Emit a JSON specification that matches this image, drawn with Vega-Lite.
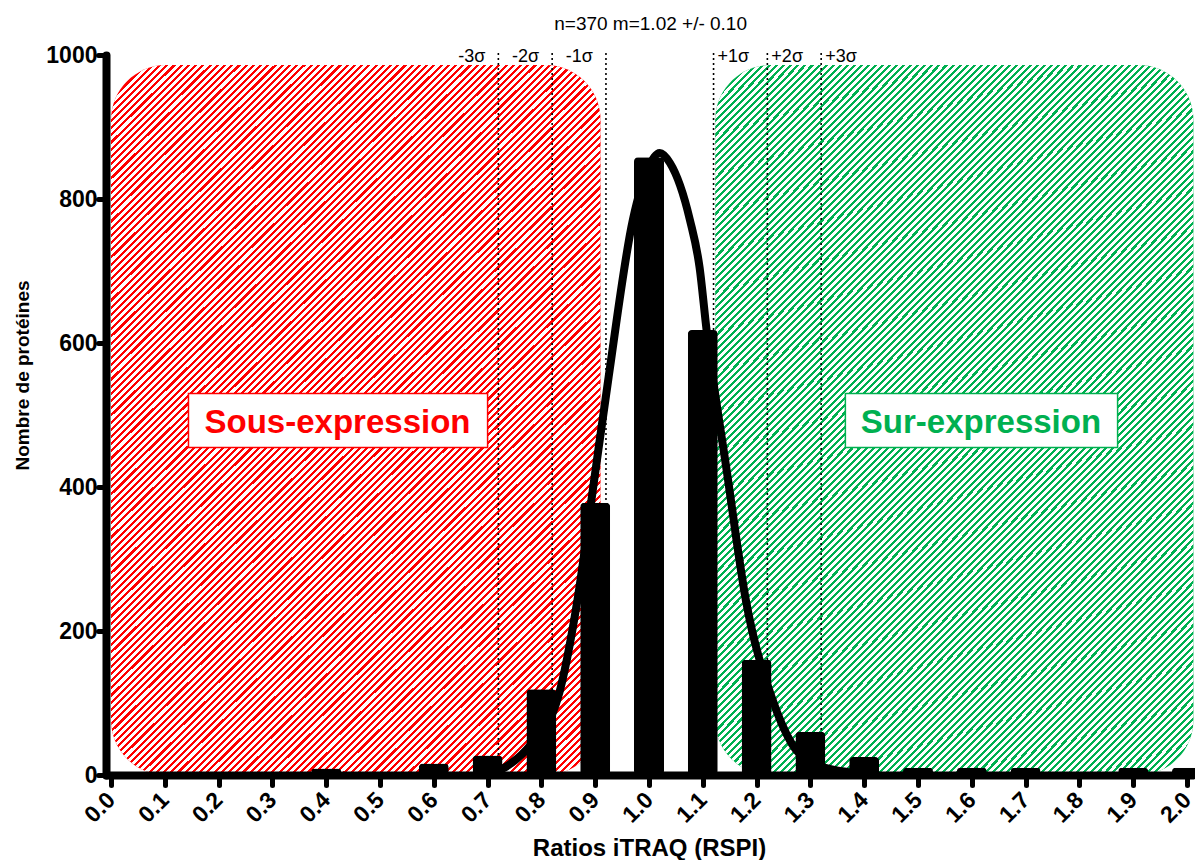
{
  "$schema": "https://vega.github.io/schema/vega-lite/v6.json",
  "width": 1086,
  "height": 720,
  "autosize": {"type": "none"},
  "padding": {"left": 106, "top": 55, "right": 3, "bottom": 85},
  "background": "white",
  "config": {"view": {"stroke": null}, "font": "Liberation Sans"},
  "datasets": {
    "zones": [
      {"x": 0, "x2": 0.91, "y": 0, "y2": 986, "zone": "Sous"},
      {"x": 1.123, "x2": 2.012, "y": 0, "y2": 986, "zone": "Sur"}
    ],
    "boxes": [
      {"x": 0.144, "x2": 0.700, "y": 455, "y2": 530, "zone": "Sous"},
      {"x": 1.365, "x2": 1.871, "y": 455, "y2": 530, "zone": "Sur"}
    ],
    "boxlabels": [
      {"x": 0.421, "y": 475, "zone": "Sous", "label": "Sous-expression"},
      {"x": 1.617, "y": 475, "zone": "Sur", "label": "Sur-expression"}
    ],
    "bars": [
      {"x": 0.4, "y": 9}, {"x": 0.6, "y": 16}, {"x": 0.7, "y": 27}, {"x": 0.8, "y": 119},
      {"x": 0.9, "y": 378}, {"x": 1.0, "y": 858}, {"x": 1.1, "y": 618}, {"x": 1.2, "y": 160},
      {"x": 1.3, "y": 60}, {"x": 1.4, "y": 25}, {"x": 1.5, "y": 10}, {"x": 1.6, "y": 10},
      {"x": 1.7, "y": 10}, {"x": 1.9, "y": 10}, {"x": 2.0, "y": 10}
    ],
    "curve": [
      {"x": 0.70, "y": 0}, {"x": 0.731, "y": 10}, {"x": 0.78, "y": 42}, {"x": 0.831, "y": 108},
      {"x": 0.867, "y": 243}, {"x": 0.90, "y": 420}, {"x": 0.925, "y": 553}, {"x": 0.97, "y": 771},
      {"x": 1.0, "y": 845}, {"x": 1.02, "y": 864}, {"x": 1.039, "y": 850}, {"x": 1.076, "y": 771},
      {"x": 1.094, "y": 705}, {"x": 1.107, "y": 618}, {"x": 1.145, "y": 420}, {"x": 1.18, "y": 243},
      {"x": 1.228, "y": 108}, {"x": 1.265, "y": 44}, {"x": 1.302, "y": 17}, {"x": 1.37, "y": 4},
      {"x": 1.40, "y": 2}
    ],
    "sigma": [
      {"x": 0.72, "y": 0, "y2": 1005},
      {"x": 0.82, "y": 0, "y2": 1005},
      {"x": 0.92, "y": 0, "y2": 1005},
      {"x": 1.12, "y": 0, "y2": 1005},
      {"x": 1.22, "y": 0, "y2": 1005},
      {"x": 1.32, "y": 0, "y2": 1005}
    ],
    "sigmalabels": [
      {"x": 0.72, "y": 990, "label": "-3σ", "side": "neg"},
      {"x": 0.82, "y": 990, "label": "-2σ", "side": "neg"},
      {"x": 0.92, "y": 990, "label": "-1σ", "side": "neg"},
      {"x": 1.12, "y": 990, "label": "+1σ", "side": "pos"},
      {"x": 1.22, "y": 990, "label": "+2σ", "side": "pos"},
      {"x": 1.32, "y": 990, "label": "+3σ", "side": "pos"}
    ],
    "title": [{"x": 1.003, "y": 1035, "label": "n=370 m=1.02 +/- 0.10"}]
  },
  "encoding": {
    "x": {
      "field": "x", "type": "quantitative",
      "scale": {"domain": [0, 2], "nice": false, "zero": false},
      "axis": {
        "title": "Ratios iTRAQ (RSPI)",
        "values": [0, 0.1, 0.2, 0.3, 0.4, 0.5, 0.6, 0.7, 0.8, 0.9, 1.0, 1.1, 1.2, 1.3, 1.4, 1.5, 1.6, 1.7, 1.8, 1.9, 2.0],
        "format": ".1f",
        "labelAngle": -45, "labelAlign": "right", "labelBaseline": "middle",
        "labelFontSize": 23, "labelFontWeight": "bold", "labelColor": "black",
        "labelPadding": 11, "labelFlush": false, "labelOverlap": false,
        "tickSize": 10, "tickWidth": 5, "tickCap": "round", "tickColor": "black",
        "domainColor": "black", "domainWidth": 8, "domainCap": "round",
        "grid": false,
        "titleFontSize": 24, "titleFontWeight": "bold", "titleColor": "black",
        "titleBaseline": "alphabetic", "titleY": 80,
        "zindex": 1
      }
    },
    "y": {
      "field": "y", "type": "quantitative",
      "scale": {"domain": [0, 1000], "nice": false},
      "axis": {
        "title": "Nombre de protéines",
        "values": [0, 200, 400, 600, 800, 1000],
        "format": "d",
        "labelFontSize": 23, "labelFontWeight": "bold", "labelColor": "black",
        "labelPadding": 1, "labelFlush": false, "labelOverlap": false,
        "tickSize": 8, "tickWidth": 5, "tickCap": "round", "tickColor": "black",
        "domainColor": "black", "domainWidth": 8, "domainCap": "round",
        "grid": false,
        "titleFontSize": 19, "titleFontWeight": "bold", "titleColor": "black",
        "titleX": -84, "titleY": 320, "titleAngle": 270, "titleAlign": "center", "titleBaseline": "middle",
        "zindex": 1
      }
    }
  },
  "layer": [
    {
      "data": {"name": "zones"},
      "mark": {"type": "rect", "cornerRadius": 55},
      "encoding": {
        "x2": {"field": "x2"},
        "y2": {"field": "y2"},
        "color": {"field": "zone", "type": "nominal", "scale": {"domain": ["Sous", "Sur"], "range": ["#ff0000", "#00b050"]}, "legend": null}
      }
    },
    {
      "data": {"name": "zones"},
      "mark": {
        "type": "rect", "cornerRadius": 55,
        "fill": {
          "gradient": "linear", "x1": 0, "y1": 0, "x2": 0.7865, "y2": 1.1465,
          "stops": [
{"offset":0,"color":"#fff"},{"offset":0.0034,"color":"#fff"},{"offset":0.0034,"color":"transparent"},{"offset":0.006,"color":"transparent"},
{"offset":0.006,"color":"#fff"},{"offset":0.0094,"color":"#fff"},{"offset":0.0094,"color":"transparent"},{"offset":0.012,"color":"transparent"},
{"offset":0.012,"color":"#fff"},{"offset":0.0154,"color":"#fff"},{"offset":0.0154,"color":"transparent"},{"offset":0.018,"color":"transparent"},
{"offset":0.018,"color":"#fff"},{"offset":0.0214,"color":"#fff"},{"offset":0.0214,"color":"transparent"},{"offset":0.024,"color":"transparent"},
{"offset":0.024,"color":"#fff"},{"offset":0.0274,"color":"#fff"},{"offset":0.0274,"color":"transparent"},{"offset":0.03,"color":"transparent"},
{"offset":0.03,"color":"#fff"},{"offset":0.0334,"color":"#fff"},{"offset":0.0334,"color":"transparent"},{"offset":0.036,"color":"transparent"},
{"offset":0.036,"color":"#fff"},{"offset":0.0394,"color":"#fff"},{"offset":0.0394,"color":"transparent"},{"offset":0.042,"color":"transparent"},
{"offset":0.042,"color":"#fff"},{"offset":0.0454,"color":"#fff"},{"offset":0.0454,"color":"transparent"},{"offset":0.048,"color":"transparent"},
{"offset":0.048,"color":"#fff"},{"offset":0.0514,"color":"#fff"},{"offset":0.0514,"color":"transparent"},{"offset":0.054,"color":"transparent"},
{"offset":0.054,"color":"#fff"},{"offset":0.0574,"color":"#fff"},{"offset":0.0574,"color":"transparent"},{"offset":0.06,"color":"transparent"},
{"offset":0.06,"color":"#fff"},{"offset":0.0634,"color":"#fff"},{"offset":0.0634,"color":"transparent"},{"offset":0.066,"color":"transparent"},
{"offset":0.066,"color":"#fff"},{"offset":0.0694,"color":"#fff"},{"offset":0.0694,"color":"transparent"},{"offset":0.072,"color":"transparent"},
{"offset":0.072,"color":"#fff"},{"offset":0.0754,"color":"#fff"},{"offset":0.0754,"color":"transparent"},{"offset":0.078,"color":"transparent"},
{"offset":0.078,"color":"#fff"},{"offset":0.0814,"color":"#fff"},{"offset":0.0814,"color":"transparent"},{"offset":0.084,"color":"transparent"},
{"offset":0.084,"color":"#fff"},{"offset":0.0874,"color":"#fff"},{"offset":0.0874,"color":"transparent"},{"offset":0.09,"color":"transparent"},
{"offset":0.09,"color":"#fff"},{"offset":0.0934,"color":"#fff"},{"offset":0.0934,"color":"transparent"},{"offset":0.096,"color":"transparent"},
{"offset":0.096,"color":"#fff"},{"offset":0.0994,"color":"#fff"},{"offset":0.0994,"color":"transparent"},{"offset":0.102,"color":"transparent"},
{"offset":0.102,"color":"#fff"},{"offset":0.1054,"color":"#fff"},{"offset":0.1054,"color":"transparent"},{"offset":0.108,"color":"transparent"},
{"offset":0.108,"color":"#fff"},{"offset":0.1114,"color":"#fff"},{"offset":0.1114,"color":"transparent"},{"offset":0.114,"color":"transparent"},
{"offset":0.114,"color":"#fff"},{"offset":0.1174,"color":"#fff"},{"offset":0.1174,"color":"transparent"},{"offset":0.12,"color":"transparent"},
{"offset":0.12,"color":"#fff"},{"offset":0.1234,"color":"#fff"},{"offset":0.1234,"color":"transparent"},{"offset":0.126,"color":"transparent"},
{"offset":0.126,"color":"#fff"},{"offset":0.1294,"color":"#fff"},{"offset":0.1294,"color":"transparent"},{"offset":0.132,"color":"transparent"},
{"offset":0.132,"color":"#fff"},{"offset":0.1354,"color":"#fff"},{"offset":0.1354,"color":"transparent"},{"offset":0.138,"color":"transparent"},
{"offset":0.138,"color":"#fff"},{"offset":0.1414,"color":"#fff"},{"offset":0.1414,"color":"transparent"},{"offset":0.144,"color":"transparent"},
{"offset":0.144,"color":"#fff"},{"offset":0.1474,"color":"#fff"},{"offset":0.1474,"color":"transparent"},{"offset":0.15,"color":"transparent"},
{"offset":0.15,"color":"#fff"},{"offset":0.1534,"color":"#fff"},{"offset":0.1534,"color":"transparent"},{"offset":0.156,"color":"transparent"},
{"offset":0.156,"color":"#fff"},{"offset":0.1594,"color":"#fff"},{"offset":0.1594,"color":"transparent"},{"offset":0.162,"color":"transparent"},
{"offset":0.162,"color":"#fff"},{"offset":0.1654,"color":"#fff"},{"offset":0.1654,"color":"transparent"},{"offset":0.168,"color":"transparent"},
{"offset":0.168,"color":"#fff"},{"offset":0.1714,"color":"#fff"},{"offset":0.1714,"color":"transparent"},{"offset":0.174,"color":"transparent"},
{"offset":0.174,"color":"#fff"},{"offset":0.1774,"color":"#fff"},{"offset":0.1774,"color":"transparent"},{"offset":0.18,"color":"transparent"},
{"offset":0.18,"color":"#fff"},{"offset":0.1834,"color":"#fff"},{"offset":0.1834,"color":"transparent"},{"offset":0.186,"color":"transparent"},
{"offset":0.186,"color":"#fff"},{"offset":0.1894,"color":"#fff"},{"offset":0.1894,"color":"transparent"},{"offset":0.192,"color":"transparent"},
{"offset":0.192,"color":"#fff"},{"offset":0.1954,"color":"#fff"},{"offset":0.1954,"color":"transparent"},{"offset":0.198,"color":"transparent"},
{"offset":0.198,"color":"#fff"},{"offset":0.2014,"color":"#fff"},{"offset":0.2014,"color":"transparent"},{"offset":0.204,"color":"transparent"},
{"offset":0.204,"color":"#fff"},{"offset":0.2074,"color":"#fff"},{"offset":0.2074,"color":"transparent"},{"offset":0.21,"color":"transparent"},
{"offset":0.21,"color":"#fff"},{"offset":0.2134,"color":"#fff"},{"offset":0.2134,"color":"transparent"},{"offset":0.216,"color":"transparent"},
{"offset":0.216,"color":"#fff"},{"offset":0.2194,"color":"#fff"},{"offset":0.2194,"color":"transparent"},{"offset":0.222,"color":"transparent"},
{"offset":0.222,"color":"#fff"},{"offset":0.2254,"color":"#fff"},{"offset":0.2254,"color":"transparent"},{"offset":0.228,"color":"transparent"},
{"offset":0.228,"color":"#fff"},{"offset":0.2314,"color":"#fff"},{"offset":0.2314,"color":"transparent"},{"offset":0.234,"color":"transparent"},
{"offset":0.234,"color":"#fff"},{"offset":0.2374,"color":"#fff"},{"offset":0.2374,"color":"transparent"},{"offset":0.24,"color":"transparent"},
{"offset":0.24,"color":"#fff"},{"offset":0.2434,"color":"#fff"},{"offset":0.2434,"color":"transparent"},{"offset":0.246,"color":"transparent"},
{"offset":0.246,"color":"#fff"},{"offset":0.2494,"color":"#fff"},{"offset":0.2494,"color":"transparent"},{"offset":0.252,"color":"transparent"},
{"offset":0.252,"color":"#fff"},{"offset":0.2554,"color":"#fff"},{"offset":0.2554,"color":"transparent"},{"offset":0.258,"color":"transparent"},
{"offset":0.258,"color":"#fff"},{"offset":0.2614,"color":"#fff"},{"offset":0.2614,"color":"transparent"},{"offset":0.264,"color":"transparent"},
{"offset":0.264,"color":"#fff"},{"offset":0.2674,"color":"#fff"},{"offset":0.2674,"color":"transparent"},{"offset":0.27,"color":"transparent"},
{"offset":0.27,"color":"#fff"},{"offset":0.2734,"color":"#fff"},{"offset":0.2734,"color":"transparent"},{"offset":0.276,"color":"transparent"},
{"offset":0.276,"color":"#fff"},{"offset":0.2794,"color":"#fff"},{"offset":0.2794,"color":"transparent"},{"offset":0.282,"color":"transparent"},
{"offset":0.282,"color":"#fff"},{"offset":0.2854,"color":"#fff"},{"offset":0.2854,"color":"transparent"},{"offset":0.288,"color":"transparent"},
{"offset":0.288,"color":"#fff"},{"offset":0.2914,"color":"#fff"},{"offset":0.2914,"color":"transparent"},{"offset":0.294,"color":"transparent"},
{"offset":0.294,"color":"#fff"},{"offset":0.2974,"color":"#fff"},{"offset":0.2974,"color":"transparent"},{"offset":0.3,"color":"transparent"},
{"offset":0.3,"color":"#fff"},{"offset":0.3034,"color":"#fff"},{"offset":0.3034,"color":"transparent"},{"offset":0.306,"color":"transparent"},
{"offset":0.306,"color":"#fff"},{"offset":0.3094,"color":"#fff"},{"offset":0.3094,"color":"transparent"},{"offset":0.312,"color":"transparent"},
{"offset":0.312,"color":"#fff"},{"offset":0.3154,"color":"#fff"},{"offset":0.3154,"color":"transparent"},{"offset":0.318,"color":"transparent"},
{"offset":0.318,"color":"#fff"},{"offset":0.3214,"color":"#fff"},{"offset":0.3214,"color":"transparent"},{"offset":0.324,"color":"transparent"},
{"offset":0.324,"color":"#fff"},{"offset":0.3274,"color":"#fff"},{"offset":0.3274,"color":"transparent"},{"offset":0.33,"color":"transparent"},
{"offset":0.33,"color":"#fff"},{"offset":0.3334,"color":"#fff"},{"offset":0.3334,"color":"transparent"},{"offset":0.336,"color":"transparent"},
{"offset":0.336,"color":"#fff"},{"offset":0.3394,"color":"#fff"},{"offset":0.3394,"color":"transparent"},{"offset":0.342,"color":"transparent"},
{"offset":0.342,"color":"#fff"},{"offset":0.3454,"color":"#fff"},{"offset":0.3454,"color":"transparent"},{"offset":0.348,"color":"transparent"},
{"offset":0.348,"color":"#fff"},{"offset":0.3514,"color":"#fff"},{"offset":0.3514,"color":"transparent"},{"offset":0.354,"color":"transparent"},
{"offset":0.354,"color":"#fff"},{"offset":0.3574,"color":"#fff"},{"offset":0.3574,"color":"transparent"},{"offset":0.36,"color":"transparent"},
{"offset":0.36,"color":"#fff"},{"offset":0.3634,"color":"#fff"},{"offset":0.3634,"color":"transparent"},{"offset":0.366,"color":"transparent"},
{"offset":0.366,"color":"#fff"},{"offset":0.3694,"color":"#fff"},{"offset":0.3694,"color":"transparent"},{"offset":0.372,"color":"transparent"},
{"offset":0.372,"color":"#fff"},{"offset":0.3754,"color":"#fff"},{"offset":0.3754,"color":"transparent"},{"offset":0.378,"color":"transparent"},
{"offset":0.378,"color":"#fff"},{"offset":0.3814,"color":"#fff"},{"offset":0.3814,"color":"transparent"},{"offset":0.384,"color":"transparent"},
{"offset":0.384,"color":"#fff"},{"offset":0.3874,"color":"#fff"},{"offset":0.3874,"color":"transparent"},{"offset":0.39,"color":"transparent"},
{"offset":0.39,"color":"#fff"},{"offset":0.3934,"color":"#fff"},{"offset":0.3934,"color":"transparent"},{"offset":0.396,"color":"transparent"},
{"offset":0.396,"color":"#fff"},{"offset":0.3994,"color":"#fff"},{"offset":0.3994,"color":"transparent"},{"offset":0.402,"color":"transparent"},
{"offset":0.402,"color":"#fff"},{"offset":0.4054,"color":"#fff"},{"offset":0.4054,"color":"transparent"},{"offset":0.408,"color":"transparent"},
{"offset":0.408,"color":"#fff"},{"offset":0.4114,"color":"#fff"},{"offset":0.4114,"color":"transparent"},{"offset":0.414,"color":"transparent"},
{"offset":0.414,"color":"#fff"},{"offset":0.4174,"color":"#fff"},{"offset":0.4174,"color":"transparent"},{"offset":0.42,"color":"transparent"},
{"offset":0.42,"color":"#fff"},{"offset":0.4234,"color":"#fff"},{"offset":0.4234,"color":"transparent"},{"offset":0.426,"color":"transparent"},
{"offset":0.426,"color":"#fff"},{"offset":0.4294,"color":"#fff"},{"offset":0.4294,"color":"transparent"},{"offset":0.432,"color":"transparent"},
{"offset":0.432,"color":"#fff"},{"offset":0.4354,"color":"#fff"},{"offset":0.4354,"color":"transparent"},{"offset":0.438,"color":"transparent"},
{"offset":0.438,"color":"#fff"},{"offset":0.4414,"color":"#fff"},{"offset":0.4414,"color":"transparent"},{"offset":0.444,"color":"transparent"},
{"offset":0.444,"color":"#fff"},{"offset":0.4474,"color":"#fff"},{"offset":0.4474,"color":"transparent"},{"offset":0.45,"color":"transparent"},
{"offset":0.45,"color":"#fff"},{"offset":0.4534,"color":"#fff"},{"offset":0.4534,"color":"transparent"},{"offset":0.456,"color":"transparent"},
{"offset":0.456,"color":"#fff"},{"offset":0.4594,"color":"#fff"},{"offset":0.4594,"color":"transparent"},{"offset":0.462,"color":"transparent"},
{"offset":0.462,"color":"#fff"},{"offset":0.4654,"color":"#fff"},{"offset":0.4654,"color":"transparent"},{"offset":0.468,"color":"transparent"},
{"offset":0.468,"color":"#fff"},{"offset":0.4714,"color":"#fff"},{"offset":0.4714,"color":"transparent"},{"offset":0.474,"color":"transparent"},
{"offset":0.474,"color":"#fff"},{"offset":0.4774,"color":"#fff"},{"offset":0.4774,"color":"transparent"},{"offset":0.48,"color":"transparent"},
{"offset":0.48,"color":"#fff"},{"offset":0.4834,"color":"#fff"},{"offset":0.4834,"color":"transparent"},{"offset":0.486,"color":"transparent"},
{"offset":0.486,"color":"#fff"},{"offset":0.4894,"color":"#fff"},{"offset":0.4894,"color":"transparent"},{"offset":0.492,"color":"transparent"},
{"offset":0.492,"color":"#fff"},{"offset":0.4954,"color":"#fff"},{"offset":0.4954,"color":"transparent"},{"offset":0.498,"color":"transparent"},
{"offset":0.498,"color":"#fff"},{"offset":0.5014,"color":"#fff"},{"offset":0.5014,"color":"transparent"},{"offset":0.504,"color":"transparent"},
{"offset":0.504,"color":"#fff"},{"offset":0.5074,"color":"#fff"},{"offset":0.5074,"color":"transparent"},{"offset":0.51,"color":"transparent"},
{"offset":0.51,"color":"#fff"},{"offset":0.5134,"color":"#fff"},{"offset":0.5134,"color":"transparent"},{"offset":0.516,"color":"transparent"},
{"offset":0.516,"color":"#fff"},{"offset":0.5194,"color":"#fff"},{"offset":0.5194,"color":"transparent"},{"offset":0.522,"color":"transparent"},
{"offset":0.522,"color":"#fff"},{"offset":0.5254,"color":"#fff"},{"offset":0.5254,"color":"transparent"},{"offset":0.528,"color":"transparent"},
{"offset":0.528,"color":"#fff"},{"offset":0.5314,"color":"#fff"},{"offset":0.5314,"color":"transparent"},{"offset":0.534,"color":"transparent"},
{"offset":0.534,"color":"#fff"},{"offset":0.5374,"color":"#fff"},{"offset":0.5374,"color":"transparent"},{"offset":0.54,"color":"transparent"},
{"offset":0.54,"color":"#fff"},{"offset":0.5434,"color":"#fff"},{"offset":0.5434,"color":"transparent"},{"offset":0.546,"color":"transparent"},
{"offset":0.546,"color":"#fff"},{"offset":0.5494,"color":"#fff"},{"offset":0.5494,"color":"transparent"},{"offset":0.552,"color":"transparent"},
{"offset":0.552,"color":"#fff"},{"offset":0.5554,"color":"#fff"},{"offset":0.5554,"color":"transparent"},{"offset":0.558,"color":"transparent"},
{"offset":0.558,"color":"#fff"},{"offset":0.5614,"color":"#fff"},{"offset":0.5614,"color":"transparent"},{"offset":0.564,"color":"transparent"},
{"offset":0.564,"color":"#fff"},{"offset":0.5674,"color":"#fff"},{"offset":0.5674,"color":"transparent"},{"offset":0.57,"color":"transparent"},
{"offset":0.57,"color":"#fff"},{"offset":0.5734,"color":"#fff"},{"offset":0.5734,"color":"transparent"},{"offset":0.576,"color":"transparent"},
{"offset":0.576,"color":"#fff"},{"offset":0.5794,"color":"#fff"},{"offset":0.5794,"color":"transparent"},{"offset":0.582,"color":"transparent"},
{"offset":0.582,"color":"#fff"},{"offset":0.5854,"color":"#fff"},{"offset":0.5854,"color":"transparent"},{"offset":0.588,"color":"transparent"},
{"offset":0.588,"color":"#fff"},{"offset":0.5914,"color":"#fff"},{"offset":0.5914,"color":"transparent"},{"offset":0.594,"color":"transparent"},
{"offset":0.594,"color":"#fff"},{"offset":0.5974,"color":"#fff"},{"offset":0.5974,"color":"transparent"},{"offset":0.6,"color":"transparent"},
{"offset":0.6,"color":"#fff"},{"offset":0.6034,"color":"#fff"},{"offset":0.6034,"color":"transparent"},{"offset":0.606,"color":"transparent"},
{"offset":0.606,"color":"#fff"},{"offset":0.6094,"color":"#fff"},{"offset":0.6094,"color":"transparent"},{"offset":0.612,"color":"transparent"},
{"offset":0.612,"color":"#fff"},{"offset":0.6154,"color":"#fff"},{"offset":0.6154,"color":"transparent"},{"offset":0.618,"color":"transparent"},
{"offset":0.618,"color":"#fff"},{"offset":0.6214,"color":"#fff"},{"offset":0.6214,"color":"transparent"},{"offset":0.624,"color":"transparent"},
{"offset":0.624,"color":"#fff"},{"offset":0.6274,"color":"#fff"},{"offset":0.6274,"color":"transparent"},{"offset":0.63,"color":"transparent"},
{"offset":0.63,"color":"#fff"},{"offset":0.6334,"color":"#fff"},{"offset":0.6334,"color":"transparent"},{"offset":0.636,"color":"transparent"},
{"offset":0.636,"color":"#fff"},{"offset":0.6394,"color":"#fff"},{"offset":0.6394,"color":"transparent"},{"offset":0.642,"color":"transparent"},
{"offset":0.642,"color":"#fff"},{"offset":0.6454,"color":"#fff"},{"offset":0.6454,"color":"transparent"},{"offset":0.648,"color":"transparent"},
{"offset":0.648,"color":"#fff"},{"offset":0.6514,"color":"#fff"},{"offset":0.6514,"color":"transparent"},{"offset":0.654,"color":"transparent"},
{"offset":0.654,"color":"#fff"},{"offset":0.6574,"color":"#fff"},{"offset":0.6574,"color":"transparent"},{"offset":0.66,"color":"transparent"},
{"offset":0.66,"color":"#fff"},{"offset":0.6634,"color":"#fff"},{"offset":0.6634,"color":"transparent"},{"offset":0.666,"color":"transparent"},
{"offset":0.666,"color":"#fff"},{"offset":0.6694,"color":"#fff"},{"offset":0.6694,"color":"transparent"},{"offset":0.672,"color":"transparent"},
{"offset":0.672,"color":"#fff"},{"offset":0.6754,"color":"#fff"},{"offset":0.6754,"color":"transparent"},{"offset":0.678,"color":"transparent"},
{"offset":0.678,"color":"#fff"},{"offset":0.6814,"color":"#fff"},{"offset":0.6814,"color":"transparent"},{"offset":0.684,"color":"transparent"},
{"offset":0.684,"color":"#fff"},{"offset":0.6874,"color":"#fff"},{"offset":0.6874,"color":"transparent"},{"offset":0.69,"color":"transparent"},
{"offset":0.69,"color":"#fff"},{"offset":0.6934,"color":"#fff"},{"offset":0.6934,"color":"transparent"},{"offset":0.696,"color":"transparent"},
{"offset":0.696,"color":"#fff"},{"offset":0.6994,"color":"#fff"},{"offset":0.6994,"color":"transparent"},{"offset":0.702,"color":"transparent"},
{"offset":0.702,"color":"#fff"},{"offset":0.7054,"color":"#fff"},{"offset":0.7054,"color":"transparent"},{"offset":0.708,"color":"transparent"},
{"offset":0.708,"color":"#fff"},{"offset":0.7114,"color":"#fff"},{"offset":0.7114,"color":"transparent"},{"offset":0.714,"color":"transparent"},
{"offset":0.714,"color":"#fff"},{"offset":0.7174,"color":"#fff"},{"offset":0.7174,"color":"transparent"},{"offset":0.72,"color":"transparent"},
{"offset":0.72,"color":"#fff"},{"offset":0.7234,"color":"#fff"},{"offset":0.7234,"color":"transparent"},{"offset":0.726,"color":"transparent"},
{"offset":0.726,"color":"#fff"},{"offset":0.7294,"color":"#fff"},{"offset":0.7294,"color":"transparent"},{"offset":0.732,"color":"transparent"},
{"offset":0.732,"color":"#fff"},{"offset":0.7354,"color":"#fff"},{"offset":0.7354,"color":"transparent"},{"offset":0.738,"color":"transparent"},
{"offset":0.738,"color":"#fff"},{"offset":0.7414,"color":"#fff"},{"offset":0.7414,"color":"transparent"},{"offset":0.744,"color":"transparent"},
{"offset":0.744,"color":"#fff"},{"offset":0.7474,"color":"#fff"},{"offset":0.7474,"color":"transparent"},{"offset":0.75,"color":"transparent"},
{"offset":0.75,"color":"#fff"},{"offset":0.7534,"color":"#fff"},{"offset":0.7534,"color":"transparent"},{"offset":0.756,"color":"transparent"},
{"offset":0.756,"color":"#fff"},{"offset":0.7594,"color":"#fff"},{"offset":0.7594,"color":"transparent"},{"offset":0.762,"color":"transparent"},
{"offset":0.762,"color":"#fff"},{"offset":0.7654,"color":"#fff"},{"offset":0.7654,"color":"transparent"},{"offset":0.768,"color":"transparent"},
{"offset":0.768,"color":"#fff"},{"offset":0.7714,"color":"#fff"},{"offset":0.7714,"color":"transparent"},{"offset":0.774,"color":"transparent"},
{"offset":0.774,"color":"#fff"},{"offset":0.7774,"color":"#fff"},{"offset":0.7774,"color":"transparent"},{"offset":0.78,"color":"transparent"},
{"offset":0.78,"color":"#fff"},{"offset":0.7834,"color":"#fff"},{"offset":0.7834,"color":"transparent"},{"offset":0.786,"color":"transparent"},
{"offset":0.786,"color":"#fff"},{"offset":0.7894,"color":"#fff"},{"offset":0.7894,"color":"transparent"},{"offset":0.792,"color":"transparent"},
{"offset":0.792,"color":"#fff"},{"offset":0.7954,"color":"#fff"},{"offset":0.7954,"color":"transparent"},{"offset":0.798,"color":"transparent"},
{"offset":0.798,"color":"#fff"},{"offset":0.8014,"color":"#fff"},{"offset":0.8014,"color":"transparent"},{"offset":0.804,"color":"transparent"},
{"offset":0.804,"color":"#fff"},{"offset":0.8074,"color":"#fff"},{"offset":0.8074,"color":"transparent"},{"offset":0.81,"color":"transparent"},
{"offset":0.81,"color":"#fff"},{"offset":0.8134,"color":"#fff"},{"offset":0.8134,"color":"transparent"},{"offset":0.816,"color":"transparent"},
{"offset":0.816,"color":"#fff"},{"offset":0.8194,"color":"#fff"},{"offset":0.8194,"color":"transparent"},{"offset":0.822,"color":"transparent"},
{"offset":0.822,"color":"#fff"},{"offset":0.8254,"color":"#fff"},{"offset":0.8254,"color":"transparent"},{"offset":0.828,"color":"transparent"},
{"offset":0.828,"color":"#fff"},{"offset":0.8314,"color":"#fff"},{"offset":0.8314,"color":"transparent"},{"offset":0.834,"color":"transparent"},
{"offset":0.834,"color":"#fff"},{"offset":0.8374,"color":"#fff"},{"offset":0.8374,"color":"transparent"},{"offset":0.84,"color":"transparent"},
{"offset":0.84,"color":"#fff"},{"offset":0.8434,"color":"#fff"},{"offset":0.8434,"color":"transparent"},{"offset":0.846,"color":"transparent"},
{"offset":0.846,"color":"#fff"},{"offset":0.8494,"color":"#fff"},{"offset":0.8494,"color":"transparent"},{"offset":0.852,"color":"transparent"},
{"offset":0.852,"color":"#fff"},{"offset":0.8554,"color":"#fff"},{"offset":0.8554,"color":"transparent"},{"offset":0.858,"color":"transparent"},
{"offset":0.858,"color":"#fff"},{"offset":0.8614,"color":"#fff"},{"offset":0.8614,"color":"transparent"},{"offset":0.864,"color":"transparent"},
{"offset":0.864,"color":"#fff"},{"offset":0.8674,"color":"#fff"},{"offset":0.8674,"color":"transparent"},{"offset":0.87,"color":"transparent"},
{"offset":0.87,"color":"#fff"},{"offset":0.8734,"color":"#fff"},{"offset":0.8734,"color":"transparent"},{"offset":0.876,"color":"transparent"},
{"offset":0.876,"color":"#fff"},{"offset":0.8794,"color":"#fff"},{"offset":0.8794,"color":"transparent"},{"offset":0.882,"color":"transparent"},
{"offset":0.882,"color":"#fff"},{"offset":0.8854,"color":"#fff"},{"offset":0.8854,"color":"transparent"},{"offset":0.888,"color":"transparent"},
{"offset":0.888,"color":"#fff"},{"offset":0.8914,"color":"#fff"},{"offset":0.8914,"color":"transparent"},{"offset":0.894,"color":"transparent"},
{"offset":0.894,"color":"#fff"},{"offset":0.8974,"color":"#fff"},{"offset":0.8974,"color":"transparent"},{"offset":0.9,"color":"transparent"},
{"offset":0.9,"color":"#fff"},{"offset":0.9034,"color":"#fff"},{"offset":0.9034,"color":"transparent"},{"offset":0.906,"color":"transparent"},
{"offset":0.906,"color":"#fff"},{"offset":0.9094,"color":"#fff"},{"offset":0.9094,"color":"transparent"},{"offset":0.912,"color":"transparent"},
{"offset":0.912,"color":"#fff"},{"offset":0.9154,"color":"#fff"},{"offset":0.9154,"color":"transparent"},{"offset":0.918,"color":"transparent"},
{"offset":0.918,"color":"#fff"},{"offset":0.9214,"color":"#fff"},{"offset":0.9214,"color":"transparent"},{"offset":0.924,"color":"transparent"},
{"offset":0.924,"color":"#fff"},{"offset":0.9274,"color":"#fff"},{"offset":0.9274,"color":"transparent"},{"offset":0.93,"color":"transparent"},
{"offset":0.93,"color":"#fff"},{"offset":0.9334,"color":"#fff"},{"offset":0.9334,"color":"transparent"},{"offset":0.936,"color":"transparent"},
{"offset":0.936,"color":"#fff"},{"offset":0.9394,"color":"#fff"},{"offset":0.9394,"color":"transparent"},{"offset":0.942,"color":"transparent"},
{"offset":0.942,"color":"#fff"},{"offset":0.9454,"color":"#fff"},{"offset":0.9454,"color":"transparent"},{"offset":0.948,"color":"transparent"},
{"offset":0.948,"color":"#fff"},{"offset":0.9514,"color":"#fff"},{"offset":0.9514,"color":"transparent"},{"offset":0.954,"color":"transparent"},
{"offset":0.954,"color":"#fff"},{"offset":0.9574,"color":"#fff"},{"offset":0.9574,"color":"transparent"},{"offset":0.96,"color":"transparent"},
{"offset":0.96,"color":"#fff"},{"offset":0.9634,"color":"#fff"},{"offset":0.9634,"color":"transparent"},{"offset":0.966,"color":"transparent"},
{"offset":0.966,"color":"#fff"},{"offset":0.9694,"color":"#fff"},{"offset":0.9694,"color":"transparent"},{"offset":0.972,"color":"transparent"},
{"offset":0.972,"color":"#fff"},{"offset":0.9754,"color":"#fff"},{"offset":0.9754,"color":"transparent"},{"offset":0.978,"color":"transparent"},
{"offset":0.978,"color":"#fff"},{"offset":0.9814,"color":"#fff"},{"offset":0.9814,"color":"transparent"},{"offset":0.984,"color":"transparent"},
{"offset":0.984,"color":"#fff"},{"offset":0.9874,"color":"#fff"},{"offset":0.9874,"color":"transparent"},{"offset":0.99,"color":"transparent"},
{"offset":0.99,"color":"#fff"},{"offset":0.9934,"color":"#fff"},{"offset":0.9934,"color":"transparent"},{"offset":0.996,"color":"transparent"},
{"offset":0.996,"color":"#fff"},{"offset":0.9994,"color":"#fff"},{"offset":0.9994,"color":"transparent"},{"offset":1,"color":"transparent"}
          ]
        }
      },
      "encoding": {
        "x2": {"field": "x2"},
        "y2": {"field": "y2"}
      }
    },
    {
      "data": {"name": "boxes"},
      "mark": {"type": "rect", "fill": "white", "strokeWidth": 1.5},
      "encoding": {
        "x2": {"field": "x2"},
        "y2": {"field": "y2"},
        "stroke": {"field": "zone", "type": "nominal", "scale": {"domain": ["Sous", "Sur"], "range": ["#ff0000", "#00b050"]}, "legend": null}
      }
    },
    {
      "data": {"name": "boxlabels"},
      "mark": {"type": "text", "fontSize": 33, "fontWeight": "bold", "align": "center", "baseline": "alphabetic"},
      "encoding": {
        "text": {"field": "label"},
        "color": {"field": "zone", "type": "nominal", "scale": {"domain": ["Sous", "Sur"], "range": ["#ff0000", "#00b050"]}, "legend": null}
      }
    },
    {
      "data": {"name": "sigma"},
      "mark": {"type": "rule", "color": "black", "strokeWidth": 1.6, "strokeDash": [2, 3]},
      "encoding": {
        "y2": {"field": "y2"}
      }
    },
    {
      "data": {"name": "bars"},
      "mark": {"type": "bar", "size": 30, "color": "black", "cornerRadius": 4}
    },
    {
      "data": {"name": "curve"},
      "mark": {"type": "line", "color": "black", "strokeWidth": 8, "interpolate": "monotone", "strokeCap": "round", "strokeJoin": "round"}
    },
    {
      "data": {"name": "sigmalabels"},
      "transform": [{"filter": "datum.side === 'neg'"}],
      "mark": {"type": "text", "fontSize": 18, "align": "right", "baseline": "alphabetic", "dx": -13, "color": "black"},
      "encoding": {
        "text": {"field": "label"}
      }
    },
    {
      "data": {"name": "sigmalabels"},
      "transform": [{"filter": "datum.side === 'pos'"}],
      "mark": {"type": "text", "fontSize": 18, "align": "left", "baseline": "alphabetic", "dx": 4, "color": "black"},
      "encoding": {
        "text": {"field": "label"}
      }
    },
    {
      "data": {"name": "title"},
      "mark": {"type": "text", "fontSize": 19, "align": "center", "baseline": "alphabetic", "color": "black"},
      "encoding": {
        "text": {"field": "label"}
      }
    }
  ]
}
